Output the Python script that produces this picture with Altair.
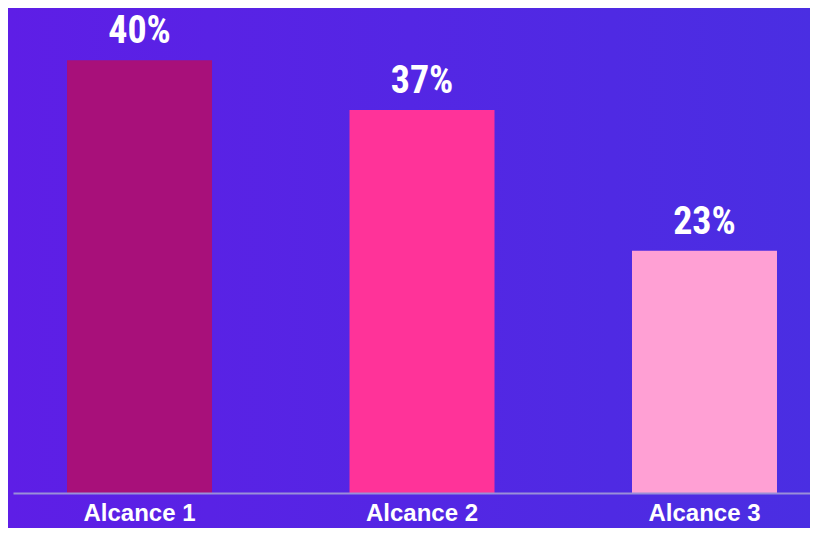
import altair as alt
import pandas as pd

categories = ["Alcance 1", "Alcance 2", "Alcance 3"]
values = [40, 35.4, 22.4]
labels = ["40%", "37%", "23%"]
colors = ["#a8107a", "#ff3399", "#ffa0d4"]

df = pd.DataFrame({"cat": categories, "val": values, "label": labels, "color": colors})

W, H = 797, 476

xscale = alt.Scale(domain=categories, paddingInner=0.4867, paddingOuter=0.154, align=0.6207)
yscale = alt.Scale(domain=[0, 44])

bgdf = pd.DataFrame({"k": [0]})
bg = alt.Chart(bgdf).mark_rect(
    color=alt.LinearGradient(
        gradient="linear",
        stops=[alt.GradientStop(color="#5e1ee6", offset=0),
               alt.GradientStop(color="#4a2ee2", offset=1)],
        x1=0, x2=1, y1=0, y2=0,
    )
).encode(x=alt.value(-5), x2=alt.value(800), y=alt.value(-10), y2=alt.value(520))

bars = alt.Chart(df).mark_bar().encode(
    x=alt.X("cat:N", scale=xscale, sort=categories,
            axis=alt.Axis(title=None, labelAngle=0, ticks=False, domainColor="#9a8fd8",
                          domainWidth=2, labelColor="white", labelFont="Liberation Sans",
                          labelFontWeight="bold", labelFontSize=24, labelPadding=8,
                          grid=False, zindex=2)),
    y=alt.Y("val:Q", scale=yscale, axis=None),
    color=alt.Color("color:N", scale=None),
)

text = alt.Chart(df).mark_text(
    baseline="alphabetic", dy=-17, color="white", fontSize=38, fontWeight="bold",
    font="Roboto Condensed, Liberation Sans Narrow, Roboto, sans-serif",
).encode(
    x=alt.X("cat:N", scale=xscale, sort=categories),
    y=alt.Y("val:Q", scale=yscale),
    text="label:N",
)

chart = alt.layer(bg, bars, text).properties(
    width=W, height=H, padding={"left": 5, "top": 9, "right": 0, "bottom": 35},
    background="#552ae4", autosize=alt.AutoSizeParams(type="none"),
).configure_view(strokeWidth=0)

chart.save("out.html", embed_options={"renderer": "svg", "actions": False})
